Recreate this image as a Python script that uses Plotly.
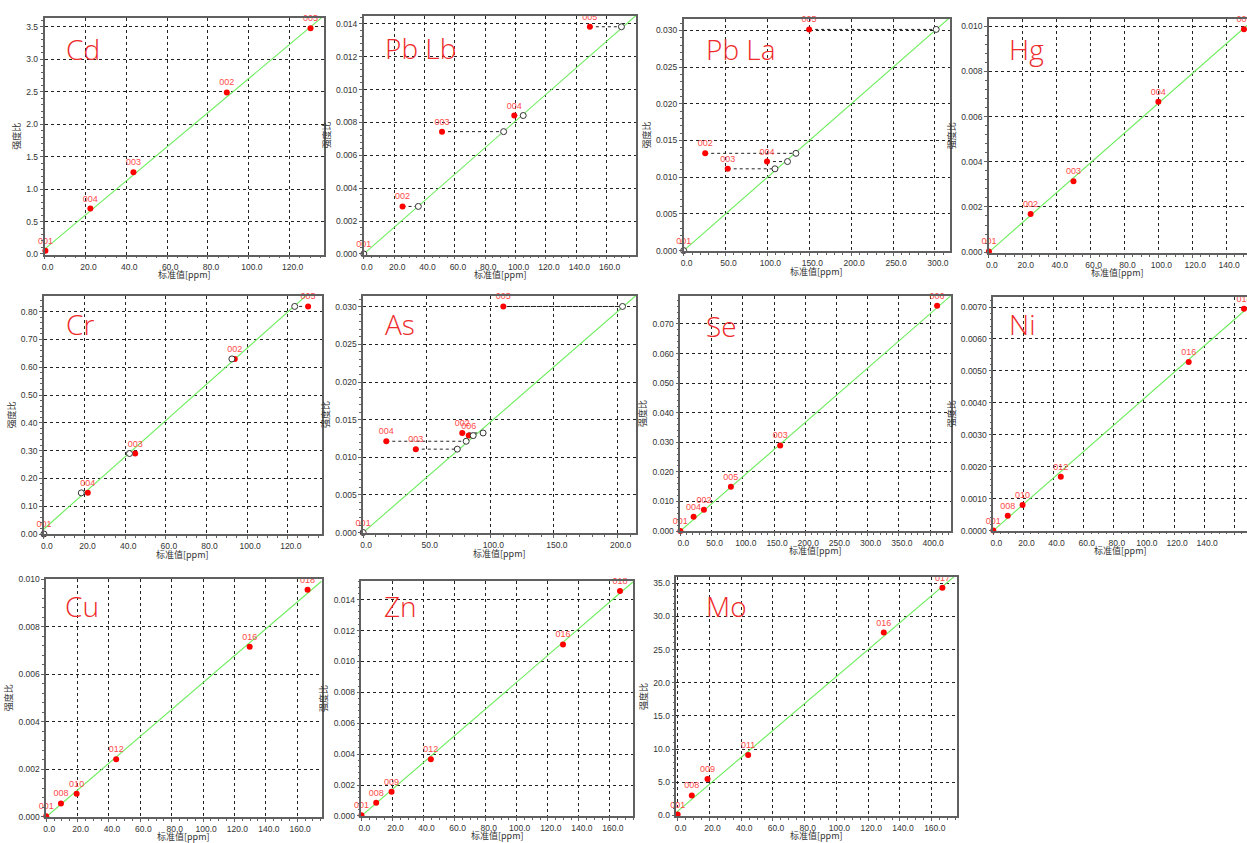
import plotly.graph_objects as go

W, H = 1247, 843

# ---------------- data ----------------
CD_IDS = ["001", "004", "003", "002", "005"]
CD_STD = [0.4, 22.4, 43.5, 89.2, 130.2]
CD_RATIO = [0.05, 0.70, 1.26, 2.49, 3.48]
CD_FIT = [0.02632, 0.074]          # slope, intercept

PBLB_IDS = ["001", "002", "003", "004", "005"]
PBLB_STD = [0.0, 25.5, 51.5, 99.1, 148.9]
PBLB_RATIO = [0.0, 0.00289, 0.00744, 0.00842, 0.01382]
PBLB_CALC = [0.0, 35.9, 92.1, 105.0, 169.7]
PBLB_FIT = [0.0000809, 0.0]

PBLA_IDS = ["001", "002", "003", "004", "005"]
PBLA_STD = [0.0, 25.7, 52.6, 99.5, 149.8]
PBLA_RATIO = [0.0, 0.01325, 0.01114, 0.01213, 0.03013]
PBLA_CALC = [0.0, 134.0, 109.0, 124.0, 301.5]
PBLA_FIT = [0.0000999, 0.0]

HG_IDS = ["001", "002", "003", "004", "005"]
HG_STD = [0.0, 24.6, 49.9, 100.0, 150.5]
HG_RATIO = [0.00003, 0.00169, 0.00314, 0.00666, 0.00987]
HG_FIT = [0.0000659, 0.0]

CR_IDS = ["001", "004", "003", "002", "005"]
CR_STD = [0.0, 21.6, 44.9, 93.9, 130.0]
CR_RATIO = [0.0, 0.148, 0.2896, 0.630, 0.819]
CR_CALC = [0.0, 18.4, 42.1, 92.5, 123.4]
CR_FIT = [0.00651, 0.018]

AS_IDS = ["001", "004", "003", "002", "006", "005"]
AS_STD = [0.0, 18.2, 41.4, 77.9, 83.0, 110.2]
AS_RATIO = [0.0, 0.01213, 0.01108, 0.01323, 0.01288, 0.03004]
AS_CALC = [0.0, 81.0, 74.0, 94.3, 86.5, 203.9]
AS_FIT = [0.0001468, 0.0]

SE_IDS = ["001", "004", "002", "005", "003", "006"]
SE_STD = [0.0, 21.2, 37.7, 80.9, 159.9, 411.2]
SE_RATIO = [0.0, 0.0048, 0.00715, 0.01496, 0.02892, 0.07614]
SE_FIT = [0.0001836, 0.0]

NI_IDS = ["001", "008", "010", "012", "016", "018"]
NI_STD = [0.0, 9.6, 19.4, 44.8, 129.7, 166.4]
NI_RATIO = [0.0, 0.000465, 0.000805, 0.00169, 0.00528, 0.00695]
NI_FIT = [0.0000413, 0.0]

CU_IDS = ["001", "008", "010", "012", "016", "018"]
CU_STD = [0.0, 9.4, 19.4, 44.6, 129.7, 166.6]
CU_RATIO = [0.00003, 0.000567, 0.00098, 0.00243, 0.00716, 0.00956]
CU_FIT = [0.0000565, 0.0]

ZN_IDS = ["001", "008", "009", "012", "016", "018"]
ZN_STD = [0.0, 9.5, 19.4, 44.7, 129.8, 166.5]
ZN_RATIO = [0.00004, 0.00085, 0.00156, 0.00367, 0.0111, 0.01455]
ZN_FIT = [0.0000866, 0.0]

MO_IDS = ["001", "008", "009", "011", "016", "017"]
MO_STD = [0.0, 8.9, 18.8, 44.4, 129.8, 166.7]
MO_RATIO = [0.1, 2.99, 5.48, 9.11, 27.58, 34.35]
MO_FIT = [0.2035, 0.6]

ELEMENTS = ["Cd", "Pb Lb", "Pb La", "Hg", "Cr", "As", "Se", "Ni", "Cu", "Zn", "Mo"]
X_TITLE = "标准值[ppm]"
Y_TITLE = "强度比"

panels = [
    dict(ids=CD_IDS, std=CD_STD, ratio=CD_RATIO, calc=None, fit=CD_FIT),
    dict(ids=PBLB_IDS, std=PBLB_STD, ratio=PBLB_RATIO, calc=PBLB_CALC, fit=PBLB_FIT),
    dict(ids=PBLA_IDS, std=PBLA_STD, ratio=PBLA_RATIO, calc=PBLA_CALC, fit=PBLA_FIT),
    dict(ids=HG_IDS, std=HG_STD, ratio=HG_RATIO, calc=None, fit=HG_FIT),
    dict(ids=CR_IDS, std=CR_STD, ratio=CR_RATIO, calc=CR_CALC, fit=CR_FIT),
    dict(ids=AS_IDS, std=AS_STD, ratio=AS_RATIO, calc=AS_CALC, fit=AS_FIT),
    dict(ids=SE_IDS, std=SE_STD, ratio=SE_RATIO, calc=None, fit=SE_FIT),
    dict(ids=NI_IDS, std=NI_STD, ratio=NI_RATIO, calc=None, fit=NI_FIT),
    dict(ids=CU_IDS, std=CU_STD, ratio=CU_RATIO, calc=None, fit=CU_FIT),
    dict(ids=ZN_IDS, std=ZN_STD, ratio=ZN_RATIO, calc=None, fit=ZN_FIT),
    dict(ids=MO_IDS, std=MO_STD, ratio=MO_RATIO, calc=None, fit=MO_FIT),
]

# ---------------- layout / style ----------------
# plot-area boxes in pixels: left, right, top, bottom
BOXES = [
    (41.7, 322.0, 14.0, 253.3),
    (361.7, 635.0, 11.7, 253.3),
    (682.3, 949.3, 15.0, 250.0),
    (988.3, 1247.0, 14.7, 251.7),
    (41.0, 319.3, 295.0, 536.0),
    (361.0, 634.3, 295.0, 535.0),
    (679.0, 950.0, 295.0, 532.7),
    (992.7, 1247.0, 296.0, 532.3),
    (43.3, 319.3, 580.7, 821.7),
    (359.3, 631.7, 583.3, 820.7),
    (675.0, 956.0, 579.3, 820.7),
]
XRANGES = [(0, 136.9), (0, 179.6), (0, 318), (0, 152.3), (0, 136.6), (0, 214.3),
           (0, 433), (0, 168.4), (0, 175.5), (0, 175), (-0.8, 175.7)]
YRANGES = [(-0.01, 3.64), (-0.00004, 0.0145), (-0.0001, 0.03157), (-0.00004, 0.01034),
           (-0.001, 0.857), (-0.0001, 0.03145), (0, 0.0795), (0, 0.00732),
           (0, 0.01003), (0, 0.0152), (-0.1, 35.94)]
XDT = [20, 20, 50, 20, 20, 50, 50, 20, 20, 20, 20]
YDT = [0.5, 0.002, 0.005, 0.002, 0.1, 0.005, 0.01, 0.001, 0.002, 0.002, 5]
YFMT = [".1f", ".3f", ".3f", ".3f", ".2f", ".3f", ".3f", ".4f", ".3f", ".3f", ".1f"]
LABEL_POS = [(61, 45), (381, 44.7), (702.7, 45.3), (1006.7, 45.3),
             (61, 323.7), (381, 323.7), (702.7, 325.3), (1006.7, 323.7),
             (60, 608.7), (380, 608.7), (702.7, 608.7)]
XTITLE_GAP = 20          # px from plot bottom to x-title centre
NO_RIGHT_FRAME = {3, 7}   # panels cut off by the right edge of the picture

RED = "#ff0000"
LBL_RED = "#ff4a4a"
GREEN = "#6cee5c"
FRAME = "#606060"
TICKFONT = dict(family="Liberation Sans, Arial, sans-serif", size=8.5, color="#333333")
TITLEFONT = dict(family="Noto Sans CJK SC, sans-serif", size=9, color="#333333")

fig = go.Figure()
layout = dict(width=W, height=H, margin=dict(l=0, r=0, t=0, b=0), autosize=False,
              paper_bgcolor="white", plot_bgcolor="white", showlegend=False,
              annotations=[])

for i, p in enumerate(panels):
    s = "" if i == 0 else str(i + 1)
    xref, yref = "x" + s, "y" + s
    l, r, t, b = BOXES[i]
    x0, x1 = XRANGES[i]
    m, c = p["fit"]

    # calibration line
    fig.add_trace(go.Scatter(x=[x0, x1], y=[m * x0 + c, m * x1 + c], mode="lines",
                             line=dict(color=GREEN, width=1.1), hoverinfo="skip",
                             xaxis=xref, yaxis=yref))
    # connectors to calculated values
    if p["calc"] is not None:
        cx, cy = [], []
        for sx, ry, kx in zip(p["std"], p["ratio"], p["calc"]):
            cx += [sx, kx, None]
            cy += [ry, ry, None]
        fig.add_trace(go.Scatter(x=cx, y=cy, mode="lines",
                                 line=dict(color="#222222", width=1, dash="dot"),
                                 hoverinfo="skip", xaxis=xref, yaxis=yref))
    # measured points
    fig.add_trace(go.Scatter(x=p["std"], y=p["ratio"], mode="markers+text",
                             text=p["ids"], textposition="top center",
                             textfont=dict(family="Liberation Sans, Arial", size=9, color=LBL_RED),
                             marker=dict(color=RED, size=6), cliponaxis=False,
                             xaxis=xref, yaxis=yref))
    if p["calc"] is not None:
        fig.add_trace(go.Scatter(x=p["calc"], y=p["ratio"], mode="markers",
                                 marker=dict(color="white", size=6,
                                             line=dict(color="#333333", width=1)),
                                 cliponaxis=False, xaxis=xref, yaxis=yref))

    common = dict(showgrid=True, gridcolor="#222222", griddash="dot", gridwidth=1,
                  showline=True, linecolor=FRAME, linewidth=1.6,
                  ticks="outside", ticklen=3, tickcolor=FRAME, tickfont=TICKFONT,
                  zeroline=False, tick0=0)
    layout["xaxis" + s] = dict(
        common, mirror=True, domain=[l / W, min(r / W, 1.0)], anchor=yref, range=[x0, x1],
        dtick=XDT[i], tickformat=".1f", ticklabelshift=3,
        minor=dict(dtick=XDT[i] / 4 if XDT[i] == 20 else XDT[i] / 5,
                   ticks="outside", ticklen=2, tickcolor=FRAME, showgrid=False))
    layout["yaxis" + s] = dict(
        common, mirror=(i not in NO_RIGHT_FRAME), domain=[1 - b / H, 1 - t / H],
        anchor=xref, range=list(YRANGES[i]),
        dtick=YDT[i], tickformat=YFMT[i],
        minor=dict(dtick=YDT[i] / 5, ticks="outside", ticklen=2, tickcolor=FRAME,
                   showgrid=False),
        title=dict(text=Y_TITLE, font=TITLEFONT, standoff=4))
    # x-axis title (annotation so the bottom row can run off the picture like the original)
    layout["annotations"].append(dict(
        text=X_TITLE, x=(l + r) / 2 / W, y=1 - (b + XTITLE_GAP) / H,
        xref="paper", yref="paper", xanchor="center", yanchor="middle",
        showarrow=False, font=TITLEFONT))
    lx, ly = LABEL_POS[i]
    layout["annotations"].append(dict(
        text=ELEMENTS[i], x=lx / W, y=1 - ly / H, xref="paper", yref="paper",
        xanchor="left", yanchor="middle", showarrow=False,
        font=dict(family="Open Sans, Noto Sans, sans-serif", size=28, color="#ee2a2a",
                  weight=300)))

fig.update_layout(**layout)
fig.write_html("out.html", config=dict(displayModeBar=False),
               post_script="document.body.style.margin='0';"
                           "document.body.style.overflow='hidden';")
